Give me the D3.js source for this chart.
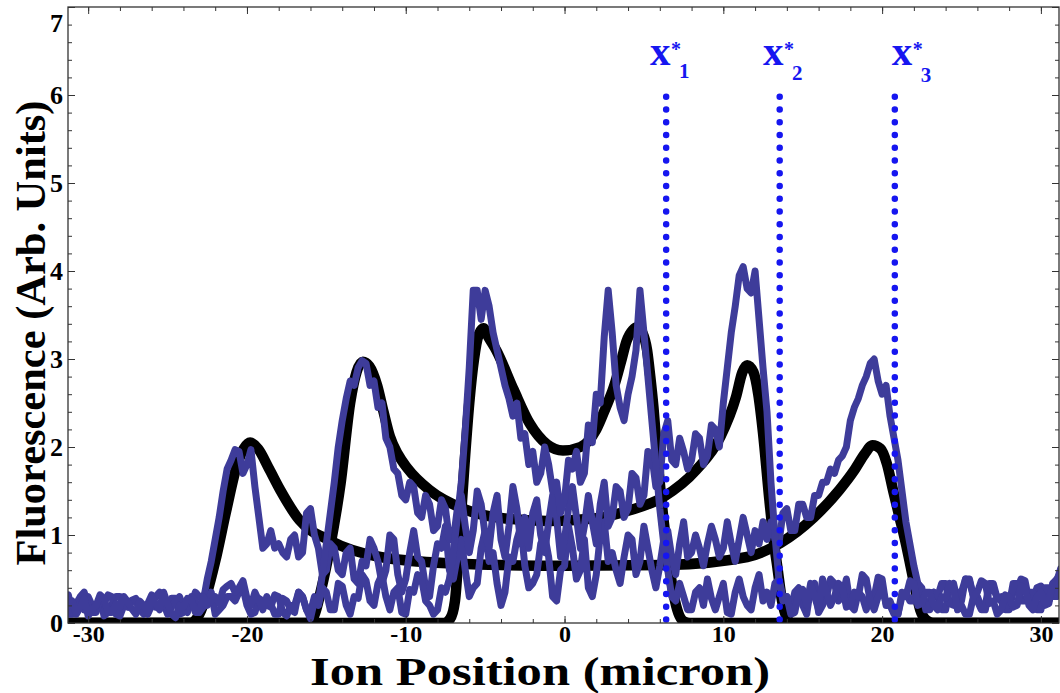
<!DOCTYPE html>
<html><head><meta charset="utf-8">
<script src="https://cdn.jsdelivr.net/npm/d3@7/dist/d3.min.js"></script>
<style>
html,body{margin:0;padding:0;background:#fff;}
svg{display:block;}
text{font-family:"Liberation Serif","Times New Roman",serif;font-weight:bold;}
</style></head><body>
<svg id="chart" width="1060" height="693"></svg>
<script>
// ---- axis content ----
const xTickValues = [-30, -20, -10, 0, 10, 20, 30];
const yTickValues = [0, 1, 2, 3, 4, 5, 6, 7];
const xTitle = "Ion Position (micron)";
const yTitle = "Fluorescence (Arb. Units)";

// ---- model fluorescence profiles, [position (micron), fluorescence] ----
const modelOuter = [[-32,0],[-23.6,0],[-23,0.1],[-22.5,0.35],[-22,0.7],[-21.3,1.28],[-20.6,1.81],[-20.2,1.98],[-19.8,2.05],[-19.3,1.98],[-18.6,1.75],[-17.9,1.51],[-16.7,1.17],[-14.8,0.94],[-11.6,0.75],[-7.4,0.68],[0,0.65],[6.5,0.66],[11.5,0.75],[13.6,0.91],[15.7,1.2],[17.3,1.51],[18.3,1.75],[18.9,1.92],[19.4,2.02],[19.9,1.98],[20.3,1.81],[20.7,1.5],[21.1,1.2],[21.5,0.9],[21.8,0.64],[22.1,0.38],[22.4,0.15],[22.8,0.03],[23.2,0],[32,0]];
const modelMiddle = [[-32,0],[-16.3,0],[-15.8,0.07],[-15.3,0.4],[-14.8,0.83],[-14.1,1.59],[-13.5,2.5],[-13.1,2.85],[-12.7,2.97],[-12.3,2.92],[-11.8,2.7],[-11.4,2.4],[-11.0,2.12],[-10.5,1.92],[-9.9,1.76],[-8.5,1.51],[-6.4,1.3],[-4.3,1.2],[-1.1,1.16],[2.0,1.19],[4.1,1.28],[6.2,1.43],[8.3,1.74],[9.8,2.11],[10.8,2.57],[11.2,2.85],[11.5,2.93],[11.9,2.85],[12.2,2.6],[12.5,2.16],[12.9,1.4],[13.2,0.9],[13.4,0.64],[13.7,0.25],[14.0,0.06],[14.3,0],[32,0]];
const modelInner = [[-32,0],[-7.6,0],[-7.2,0.05],[-6.9,0.25],[-6.6,1.0],[-6.3,1.8],[-6.0,2.5],[-5.7,3.0],[-5.4,3.28],[-5.1,3.35],[-4.8,3.25],[-4.3,3.1],[-3.2,2.65],[-2.2,2.27],[-1.1,2.03],[-0.1,1.96],[1.0,2.0],[2.0,2.2],[2.6,2.45],[3.1,2.68],[3.6,3.0],[3.9,3.2],[4.3,3.33],[4.6,3.36],[4.9,3.3],[5.2,3.1],[5.4,2.8],[5.6,2.45],[5.8,2.0],[6.0,1.59],[6.25,1.15],[6.5,0.8],[6.8,0.4],[7.1,0.15],[7.5,0.02],[7.9,0],[32,0]];

// ---- measured traces, one sample every 0.25 micron starting at -32 (20 samples per row) ----
const traceStart = -32;
const traceStep = 0.25;
const traceInner = [
  0.22,0.30,0.14,0.20,0.25,0.10,0.18,0.28,0.08,0.15,0.20,0.32,0.28,0.12,0.12,0.22,0.18,0.30,0.24,0.16,
  0.10,0.25,0.20,0.12,0.30,0.22,0.15,0.35,0.22,0.10,0.06,0.20,0.18,0.28,0.26,0.12,0.12,0.30,0.20,0.25,
  0.30,0.22,0.38,0.42,0.45,0.35,0.40,0.48,0.28,0.20,0.35,0.25,0.15,0.30,0.22,0.10,0.10,0.28,0.25,0.15,
  0.12,0.35,0.30,0.15,0.05,0.25,0.20,0.40,0.35,0.15,0.15,0.45,0.42,0.20,0.10,0.30,0.28,0.55,0.48,0.25,
  0.20,0.45,0.55,0.30,0.15,0.35,0.40,0.12,0.10,0.38,0.35,0.55,0.50,0.25,0.20,0.10,0.15,0.40,0.35,0.50,
  0.80,1.20,1.60,2.20,2.90,3.78,3.78,3.45,3.78,3.60,3.30,3.10,2.90,2.70,2.55,2.35,2.50,2.10,2.15,1.80,
  1.95,1.60,1.70,2.00,1.80,1.50,1.60,1.25,1.40,1.85,1.75,1.95,1.60,1.70,2.25,2.05,2.60,2.50,3.25,3.78,
  3.30,2.70,2.45,2.30,2.60,2.80,3.10,3.78,3.30,2.80,2.30,1.80,1.30,0.90,0.60,0.30,0.25,0.45,0.30,0.15,
  0.15,0.35,0.40,0.20,0.50,0.28,0.15,0.30,0.45,0.12,0.10,0.35,0.50,0.30,0.20,0.15,0.40,0.55,0.25,0.35,
  0.20,0.45,0.50,0.25,0.30,0.10,0.12,0.35,0.38,0.20,0.45,0.30,0.15,0.50,0.35,0.20,0.30,0.45,0.40,0.18,
  0.20,0.35,0.30,0.55,0.50,0.25,0.15,0.30,0.40,0.22,0.25,0.12,0.10,0.35,0.30,0.48,0.45,0.20,0.22,0.35,
  0.35,0.20,0.15,0.30,0.28,0.45,0.40,0.15,0.20,0.10,0.10,0.30,0.35,0.48,0.45,0.22,0.25,0.10,0.15,0.32,
  0.30,0.18,0.20,0.42,0.40,0.20,0.15,0.30,0.35,0.22,0.25,0.45,0.50,0.55,0.60,0.52];
const traceMiddle = [
  0.15,0.28,0.25,0.10,0.10,0.22,0.30,0.35,0.20,0.12,0.12,0.25,0.22,0.32,0.30,0.10,0.08,0.20,0.18,0.26,
  0.28,0.20,0.15,0.10,0.20,0.30,0.35,0.22,0.10,0.18,0.25,0.30,0.18,0.12,0.30,0.25,0.12,0.18,0.22,0.35,
  0.10,0.15,0.20,0.30,0.30,0.25,0.35,0.40,0.20,0.10,0.12,0.28,0.25,0.20,0.18,0.32,0.30,0.12,0.08,0.20,
  0.20,0.35,0.30,0.15,0.12,0.30,0.25,0.55,0.90,1.25,1.60,2.00,2.30,2.55,2.75,2.70,2.90,2.98,2.95,2.70,
  2.75,2.45,2.50,2.10,2.00,1.75,1.70,1.45,1.40,1.60,1.55,1.25,1.20,1.45,1.35,1.05,1.10,1.40,1.30,0.95,
  0.95,1.30,1.45,1.10,0.80,1.05,1.50,1.35,1.00,0.85,1.25,1.45,0.95,0.75,1.10,1.55,1.30,0.90,1.20,0.85,
  1.25,1.40,1.00,0.80,1.15,1.45,1.20,0.75,0.95,1.30,1.55,1.20,0.85,1.10,1.45,1.15,0.90,1.35,1.60,1.10,
  1.20,1.55,1.50,1.20,1.30,1.70,1.65,1.35,1.45,1.95,1.90,1.55,1.60,2.15,2.30,1.85,1.80,2.10,1.95,1.75,
  1.85,2.15,2.10,1.80,1.90,2.25,2.20,2.00,2.50,2.90,3.30,3.60,3.95,4.05,3.80,3.75,4.00,3.45,2.90,2.40,
  1.60,1.00,0.50,0.30,0.30,0.15,0.35,0.40,0.20,0.10,0.40,0.45,0.12,0.20,0.30,0.50,0.45,0.25,0.30,0.50,
  0.20,0.15,0.35,0.30,0.15,0.30,0.30,0.52,0.50,0.20,0.20,0.10,0.10,0.30,0.35,0.25,0.25,0.45,0.40,0.15,
  0.15,0.35,0.30,0.45,0.45,0.22,0.20,0.35,0.35,0.50,0.50,0.30,0.25,0.15,0.15,0.40,0.40,0.28,0.30,0.20,
  0.20,0.45,0.45,0.25,0.25,0.35,0.35,0.15,0.15,0.40,0.40,0.30,0.30,0.55,0.58,0.50];
const traceOuter = [
  0.28,0.22,0.20,0.32,0.12,0.18,0.25,0.15,0.30,0.20,0.15,0.28,0.08,0.12,0.22,0.30,0.30,0.20,0.18,0.25,
  0.25,0.15,0.10,0.22,0.32,0.18,0.20,0.30,0.15,0.28,0.28,0.10,0.12,0.25,0.22,0.35,0.30,0.25,0.50,0.70,
  0.95,1.20,1.50,1.75,1.85,1.97,1.95,1.70,1.80,1.97,1.55,1.20,0.85,0.90,1.05,0.85,0.90,0.80,0.75,0.95,
  1.00,0.75,0.80,1.25,1.30,1.00,0.85,0.55,0.60,0.90,0.85,0.60,0.55,0.80,0.85,0.50,0.45,0.70,0.65,0.95,
  0.85,0.70,0.45,0.60,1.00,0.95,0.55,0.35,0.50,0.80,1.05,0.75,0.70,0.40,0.30,0.65,0.90,0.85,1.10,0.60,
  0.50,0.75,0.95,0.60,0.30,0.40,0.45,0.85,1.05,0.70,0.80,0.45,0.20,0.35,0.75,0.70,0.95,1.10,0.65,0.40,
  0.45,0.55,0.90,1.00,0.75,0.30,0.25,0.60,0.65,1.10,0.85,0.50,0.60,0.95,0.40,0.30,0.55,1.00,1.15,0.70,
  0.80,0.60,0.45,0.75,1.00,0.95,0.55,0.70,1.10,0.85,0.60,0.40,0.65,0.95,1.05,0.75,0.55,0.90,1.15,0.75,
  0.80,1.00,0.85,0.65,0.90,1.10,0.95,0.75,0.85,1.15,0.90,0.70,0.95,1.20,1.00,0.80,1.05,0.90,1.15,0.95,
  1.15,0.95,0.90,1.25,1.30,1.05,1.05,1.35,1.35,1.20,1.20,1.45,1.45,1.60,1.60,1.75,1.70,1.85,1.90,2.00,
  2.30,2.45,2.55,2.70,2.80,2.95,3.00,2.75,2.60,2.70,2.35,2.10,1.85,1.50,1.15,0.90,0.65,0.45,0.30,0.25,
  0.20,0.35,0.30,0.15,0.15,0.40,0.45,0.25,0.25,0.50,0.48,0.30,0.30,0.18,0.20,0.45,0.45,0.28,0.25,0.15,
  0.15,0.35,0.38,0.50,0.48,0.25,0.25,0.40,0.42,0.20,0.22,0.45,0.48,0.62,0.65,0.55];

// ---- critical positions x*_n ----
const markerPositions = [6.4, 13.55, 20.8];
const markerTop = 6.07;
const markerSubscripts = ["1", "2", "3"];
const markerLabelX = [5.38, 12.5, 20.6];

// ---- layout ----
const svg = d3.select("#chart");
const plot = {left: 68, top: 7, right: 1059, bottom: 623};
const x = d3.scaleLinear().domain([-31.27, 31.14]).range([plot.left, plot.right]);
const y = d3.scaleLinear().domain([0, 7]).range([plot.bottom, plot.top]);

svg.append("clipPath").attr("id", "plot-clip")
  .append("rect")
  .attr("x", plot.left).attr("y", plot.top)
  .attr("width", plot.right - plot.left).attr("height", plot.bottom - plot.top);

const dataLayer = svg.append("g").attr("clip-path", "url(#plot-clip)");

const modelLine = d3.line()
  .x(d => x(d[0])).y(d => y(d[1]))
  .curve(d3.curveMonotoneX);

[modelOuter, modelMiddle, modelInner].forEach(curve => {
  dataLayer.append("path")
    .datum(curve)
    .attr("d", modelLine)
    .attr("fill", "none")
    .attr("stroke", "#000")
    .attr("stroke-width", 10.5)
    .attr("stroke-linejoin", "round")
    .attr("stroke-linecap", "round");
});

const traceLine = d3.line()
  .x((d, i) => x(traceStart + i * traceStep))
  .y(d => y(d));

[traceOuter, traceMiddle, traceInner].forEach(trace => {
  dataLayer.append("path")
    .datum(trace)
    .attr("d", traceLine)
    .attr("fill", "none")
    .attr("stroke", "#3e3c9a")
    .attr("stroke-width", 7)
    .attr("stroke-linejoin", "round")
    .attr("stroke-linecap", "round");
});

// dotted verticals at x*_n
const markerColor = "#1616f0";
svg.append("g").selectAll("line")
  .data(markerPositions)
  .join("line")
  .attr("x1", d => x(d)).attr("x2", d => x(d))
  .attr("y1", y(0.04)).attr("y2", y(markerTop))
  .attr("stroke", markerColor)
  .attr("stroke-width", 6.5)
  .attr("stroke-linecap", "round")
  .attr("stroke-dasharray", "0 12.75");

const labels = svg.append("g").attr("fill", markerColor);
markerPositions.forEach((p, i) => {
  const lx = x(markerLabelX[i]);
  labels.append("text").attr("x", lx).attr("y", 65).attr("font-size", 41).text("x");
  labels.append("text").attr("x", lx + 21).attr("y", 56).attr("font-size", 20).text("*");
  labels.append("text").attr("x", lx + 29).attr("y", 78 + i * 2).attr("font-size", 21).text(markerSubscripts[i]);
});

// ---- axes ----
const axisColor = "#333";
const xMinor = d3.range(-30, 31, 2);
const yMinor = d3.range(0, 7.01, 0.2);

function styleAxis(g) {
  g.select(".domain").remove();
  g.selectAll("line").attr("stroke", axisColor).attr("stroke-width", 1);
}

const gx = svg.append("g").attr("transform", `translate(0,${plot.bottom})`);
gx.call(d3.axisBottom(x).tickValues(xMinor).tickFormat("").tickSizeInner(-4).tickSizeOuter(0)).call(styleAxis);
const gx2 = svg.append("g").attr("transform", `translate(0,${plot.bottom})`);
gx2.call(d3.axisBottom(x).tickValues(xTickValues).tickFormat(d3.format("d")).tickSizeInner(-7).tickSizeOuter(0).tickPadding(2)).call(styleAxis);
gx2.selectAll("text").attr("font-size", 24).attr("fill", "#000")
  .attr("font-family", '"Liberation Serif",serif').attr("font-weight", "bold")
  .text(d => d < 0 ? "-" + Math.abs(d) : String(d));

const gxt = svg.append("g").attr("transform", `translate(0,${plot.top})`);
gxt.call(d3.axisTop(x).tickValues(xMinor).tickFormat("").tickSizeInner(-4).tickSizeOuter(0)).call(styleAxis);
const gxt2 = svg.append("g").attr("transform", `translate(0,${plot.top})`);
gxt2.call(d3.axisTop(x).tickValues(xTickValues).tickFormat("").tickSizeInner(-7).tickSizeOuter(0)).call(styleAxis);

const gy = svg.append("g").attr("transform", `translate(${plot.left},0)`);
gy.call(d3.axisLeft(y).tickValues(yMinor).tickFormat("").tickSizeInner(-4).tickSizeOuter(0)).call(styleAxis);
const gy2 = svg.append("g").attr("transform", `translate(${plot.left},0)`);
gy2.call(d3.axisLeft(y).tickValues(yTickValues).tickFormat(d3.format("d")).tickSizeInner(-7).tickSizeOuter(0).tickPadding(5)).call(styleAxis);
gy2.selectAll("text").attr("font-size", 26).attr("fill", "#000")
  .attr("font-family", '"Liberation Serif",serif').attr("font-weight", "bold");
// keep the topmost label inside the canvas
gy2.selectAll(".tick").filter(d => d === 7).select("text").attr("dy", "0.95em");

const gyr = svg.append("g").attr("transform", `translate(${plot.right},0)`);
gyr.call(d3.axisRight(y).tickValues(yMinor).tickFormat("").tickSizeInner(-4).tickSizeOuter(0)).call(styleAxis);
const gyr2 = svg.append("g").attr("transform", `translate(${plot.right},0)`);
gyr2.call(d3.axisRight(y).tickValues(yTickValues).tickFormat("").tickSizeInner(-7).tickSizeOuter(0)).call(styleAxis);

// frame
svg.append("rect")
  .attr("x", plot.left).attr("y", plot.top)
  .attr("width", plot.right - plot.left).attr("height", plot.bottom - plot.top)
  .attr("fill", "none").attr("stroke", axisColor).attr("stroke-width", 1.3);

// titles
svg.append("text")
  .attr("x", 540).attr("y", 684.5)
  .attr("text-anchor", "middle")
  .attr("font-size", 39)
  .attr("textLength", 460)
  .attr("lengthAdjust", "spacingAndGlyphs")
  .attr("fill", "#000")
  .text(xTitle);

svg.append("text")
  .attr("transform", "translate(45,333) rotate(-90)")
  .attr("text-anchor", "middle")
  .attr("font-size", 42)
  .attr("textLength", 465)
  .attr("lengthAdjust", "spacingAndGlyphs")
  .attr("fill", "#000")
  .text(yTitle);
</script>
</body></html>
